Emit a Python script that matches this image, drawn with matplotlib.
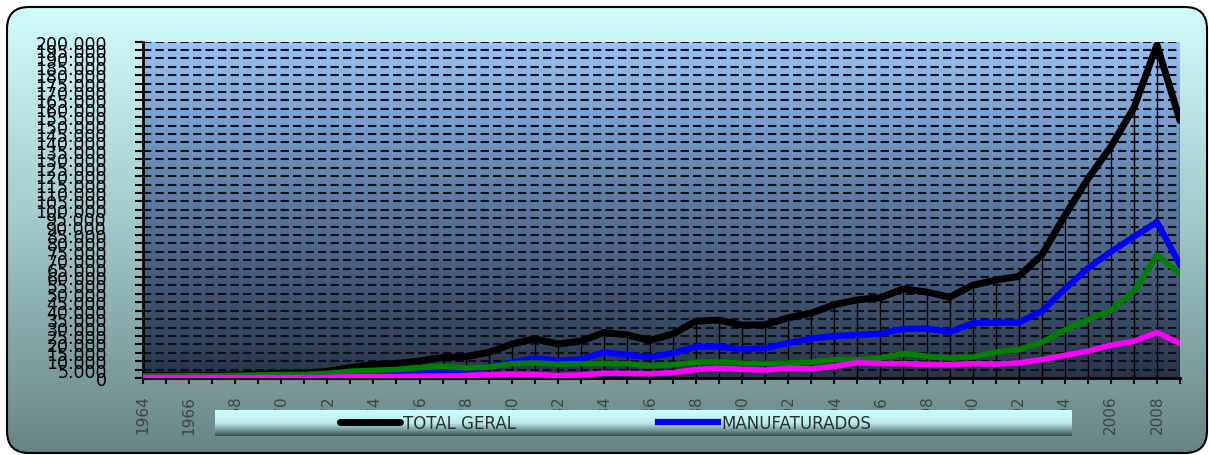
import numpy as np
import matplotlib.pyplot as plt
from matplotlib.patches import FancyBboxPatch
from matplotlib.ticker import MultipleLocator, FuncFormatter

# exportacoes por fator agregado (US$ milhoes)
anos = np.arange(1964, 2010)
total = [1430, 1596, 1741, 1654, 1881, 2311, 2739, 2904, 3991, 6199,
         7951, 8670, 10128, 12120, 12659, 15244, 20132, 23293, 20175, 21899,
         27005, 25639, 22349, 26224, 33789, 34383, 31414, 31620, 35793, 38555,
         43545, 46506, 47747, 52994, 51140, 48011, 55086, 58223, 60362, 73084,
         96475, 118308, 137470, 160649, 197942, 152995]
manufaturados = [76, 126, 149, 163, 202, 295, 416, 558, 894, 1434,
                 2263, 2585, 2776, 3840, 5083, 6645, 9028, 11884, 10253, 11170,
                 15132, 13806, 12404, 14843, 18575, 18580, 17011, 17757, 20734, 23437,
                 24960, 25565, 26413, 29194, 29387, 27329, 32528, 32901, 33001, 39654,
                 52948, 65144, 75018, 83943, 92682, 67349]
basicos = [1221, 1301, 1420, 1310, 1507, 1796, 2049, 2101, 2726, 4030,
           4577, 5027, 6129, 6959, 5978, 6553, 8488, 8920, 8238, 8535,
           8706, 8538, 7280, 8022, 9411, 9549, 8746, 8737, 8830, 9366,
           11058, 10969, 11900, 14474, 12977, 11828, 12562, 15342, 16952, 21179,
           28518, 34721, 40285, 51596, 73028, 61957]
semimanufaturados = [114, 141, 157, 158, 154, 205, 249, 228, 350, 706,
                     985, 850, 1106, 1200, 1433, 1908, 2349, 2116, 1433, 1878,
                     2863, 2758, 2492, 3175, 5063, 5807, 5108, 4691, 5750, 5445,
                     6893, 9146, 8613, 8478, 8121, 7982, 8499, 8244, 8964, 10943,
                     13431, 15961, 19523, 21800, 27073, 20499]
rotulos_leg = ['TOTAL GERAL', 'MANUFATURADOS']


def gradiente(cores, n=256):
    # cores: lista de (pos, (r,g,b)) de cima para baixo -> imagem n x 1
    pos = [c[0] for c in cores]
    rgb = np.array([c[1] for c in cores]) / 255.
    t = np.linspace(0, 1, n)
    img = np.stack([np.interp(t, pos, rgb[:, k]) for k in range(3)], axis=-1)
    return img[:, None, :]


W, H = 1209, 456
fig = plt.figure(figsize=(W / 100, H / 100), dpi=100)
fig.patch.set_facecolor('white')

# fundo com cantos arredondados
bg = fig.add_axes([0, 0, 1, 1], zorder=0)
bg.set_xlim(0, W)
bg.set_ylim(H, 0)
bg.axis('off')
caixa = FancyBboxPatch((7, 8), 1200, 446, boxstyle='round,pad=0,rounding_size=22',
                       facecolor='none', edgecolor='black', linewidth=1.5, zorder=3)
bg.add_patch(caixa)
img = bg.imshow(gradiente([(0, (210, 252, 252)), (0.45, (165, 205, 205)), (1, (105, 132, 132))]),
                extent=[7, 1207, 454, 8], aspect='auto', zorder=1)
img.set_clip_path(caixa)

# grafico principal
ax = fig.add_axes([143 / W, 1 - 379 / H, (1180 - 143) / W, (379 - 42.5) / H], zorder=2)
ax.imshow(gradiente([(0, (150, 196, 248)), (0.45, (95, 125, 165)), (1, (40, 52, 72))]),
          extent=[1964, 2009, 0, 200000], aspect='auto', zorder=0)
ax.set_xlim(1964, 2009)
ax.set_ylim(0, 200000)

for v in range(5000, 200001, 5000):
    ax.axhline(v, color='#0a0f18', linewidth=1.5, linestyle=(0, (4, 2)), zorder=1)

ax.vlines(anos, 0, total, color='black', linewidth=1, zorder=2)

l_total, = ax.plot(anos, total, color='black', linewidth=5, zorder=3, solid_capstyle='round')
l_manuf, = ax.plot(anos, manufaturados, color='#0000ff', linewidth=4.5, zorder=4)
ax.plot(anos, basicos, color='#008000', linewidth=4, zorder=5)
ax.plot(anos, semimanufaturados, color='#ff00ff', linewidth=4, zorder=6)

for s in ['top', 'right']:
    ax.spines[s].set_visible(False)
ax.spines['left'].set_linewidth(2)
ax.spines['bottom'].set_linewidth(2)

ax.yaxis.set_major_locator(MultipleLocator(5000))
ax.yaxis.set_major_formatter(FuncFormatter(lambda v, p: f"{int(v):,}".replace(',', '.')))
ax.tick_params(axis='y', length=6, width=1.5, pad=20, labelsize=12.5)

ax.set_xticks(anos)
ax.set_xticklabels([str(a) if a % 2 == 0 else '' for a in anos], rotation=90,
                   fontsize=11, family=['Liberation Sans Narrow', 'DejaVu Sans'],
                   color='#3c4646')
ax.tick_params(axis='x', length=4, width=1.5, pad=8)

# caixa da legenda
lg = fig.add_axes([215 / W, 1 - 437 / H, (1072 - 215) / W, 26 / H], zorder=5)
lg.axis('off')
lg.imshow(gradiente([(0, (205, 255, 255)), (0.5, (185, 235, 235)), (1, (60, 80, 80))]),
          extent=[0, 1, 0, 1], aspect='auto')
lg.set_xlim(0, 1)
lg.set_ylim(0, 1)
leg = lg.legend([l_total, l_manuf], rotulos_leg, ncol=2, loc='center left',
                bbox_to_anchor=(125 / 857, 0.5), frameon=False, fontsize=12,
                handlelength=3.6, handletextpad=0.2, columnspacing=8.5,
                borderpad=0, borderaxespad=0)
for t in leg.get_texts():
    t.set_color('#2a3030')

fig.savefig('out.png', dpi=100)
